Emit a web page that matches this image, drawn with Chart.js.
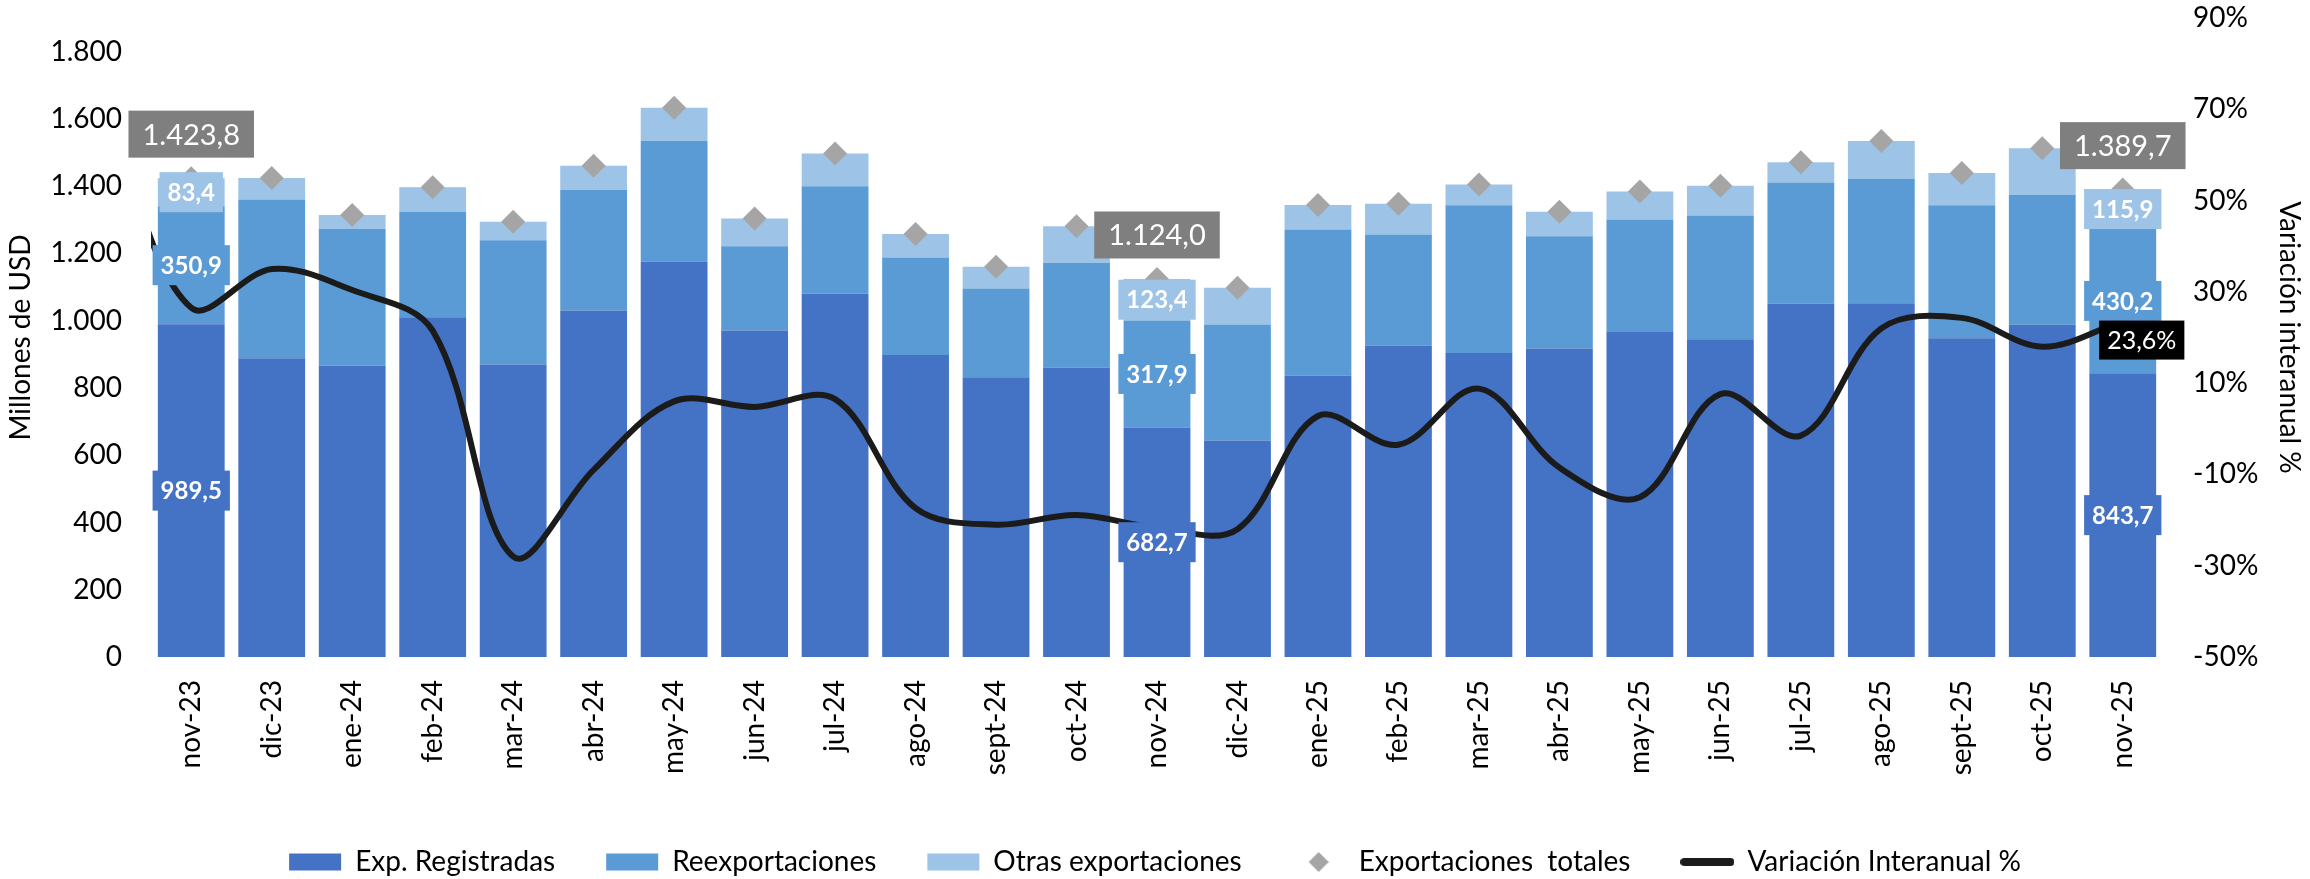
<!DOCTYPE html>
<html lang="es">
<head>
<meta charset="utf-8">
<title>Exportaciones</title>
<script src="https://cdn.jsdelivr.net/npm/chart.js@4.4.1/dist/chart.umd.min.js"></script>
<style>
  html, body { margin: 0; padding: 0; background: #fff; }
  canvas { display: block; }
</style>
</head>
<body>
<canvas id="grafico" width="2310" height="879"></canvas>
<script>
// --- DATOS ---
const categorias = ['nov-23', 'dic-23', 'ene-24', 'feb-24', 'mar-24', 'abr-24', 'may-24', 'jun-24', 'jul-24', 'ago-24', 'sept-24', 'oct-24', 'nov-24', 'dic-24', 'ene-25', 'feb-25', 'mar-25', 'abr-25', 'may-25', 'jun-25', 'jul-25', 'ago-25', 'sept-25', 'oct-25', 'nov-25'];
const expRegistradas = [989.5, 888, 866, 1010, 870, 1030, 1176, 971, 1080, 898, 832, 861, 682.7, 644, 837, 926, 904, 917, 966, 945, 1051, 1052, 948, 988, 843.7];
const reexportaciones = [350.9, 472, 407, 314, 369, 359, 359, 250, 320, 290, 264, 311, 317.9, 345, 434, 330, 439, 334, 335, 368, 360, 370, 395, 386, 430.2];
const otrasExportaciones = [83.4, 64, 41, 73, 55, 72, 98, 83, 97, 70, 64, 109, 123.4, 109, 73, 92, 62, 73, 83, 88, 60, 112, 96, 139, 115.9];
const exportacionesTotales = [1423.8, 1424, 1314, 1397, 1294, 1461, 1633, 1304, 1497, 1258, 1160, 1281, 1124.0, 1098, 1344, 1348, 1405, 1324, 1384, 1401, 1471, 1534, 1439, 1513, 1389.7];
// la serie de variación arranca un mes antes (oct-23), recortado por el borde del gráfico
const mesesVariacion = ['oct-23'].concat(categorias);
const variacionInteranual = [66, 26.5, 35, 30.4, 21.5, -28, -9, 6, 4.8, 6.5, -17.4, -21, -18.9, -21.7, -22, 2.8, -3.5, 8.8, -8.5, -15, 7.6, -1.5, 22, 24.3, 18, 23.6];
const ticksUSD = [0, 1800, 200];       // min, max etiquetado, paso
const ticksVariacion = [-50, 90, 20];  // min, max, paso
const mesesEtiquetados = ['nov-23', 'nov-24', 'nov-25'];

// --- ESTILOS ---
const colores = ['#4472C4', '#5B9BD5', '#9DC3E6'];
const FUENTE = 'Lato, "Open Sans", sans-serif';

Chart.defaults.font.family = FUENTE;
Chart.defaults.font.size = 28;
Chart.defaults.color = '#000';

function miles(v) {
    return String(v).replace(/\B(?=(\d{3})+(?!\d))/g, '.');
}
function formato(v) {
    const partes = v.toFixed(1).split('.');
    return miles(partes[0]) + ',' + partes[1];
}

function crearIcono(w, h, dibujar) {
    const c = document.createElement('canvas');
    c.width = w;
    c.height = h;
    dibujar(c.getContext('2d'));
    return c;
}
const iconoRombo = crearIcono(20, 20, g => {
    g.fillStyle = '#A5A5A5';
    g.beginPath();
    g.moveTo(10, 0); g.lineTo(20, 10); g.lineTo(10, 20); g.lineTo(0, 10);
    g.closePath();
    g.fill();
});
const iconoLinea = crearIcono(54, 8, g => {
    g.strokeStyle = '#1b1b1b';
    g.lineWidth = 8;
    g.lineCap = 'round';
    g.beginPath();
    g.moveTo(4, 4); g.lineTo(50, 4);
    g.stroke();
});

// caja con texto centrado (etiquetas de datos)
function caja(ctx, cx, cy, padX, alto, fondo, texto, fuente) {
    ctx.font = fuente;
    const ancho = ctx.measureText(texto).width + padX * 2;
    ctx.fillStyle = fondo;
    ctx.fillRect(cx - ancho / 2, cy - alto / 2, ancho, alto);
    ctx.fillStyle = '#fff';
    ctx.fillText(texto, cx, cy + 1);
}

const etiquetasDatos = {
    id: 'etiquetasDatos',
    afterDatasetsDraw(chart) {
        const ctx = chart.ctx;
        const indices = mesesEtiquetados.map(m => categorias.indexOf(m));
        ctx.save();
        ctx.textAlign = 'center';
        ctx.textBaseline = 'middle';

        // segmentos de las barras
        const series = [expRegistradas, reexportaciones, otrasExportaciones];
        series.forEach((serie, di) => {
            const meta = chart.getDatasetMeta(di);
            indices.forEach(i => {
                const barra = meta.data[i];
                const cy = (barra.y + barra.base) / 2;
                caja(ctx, barra.x, cy, 8, 40, colores[di], formato(serie[i]), 'bold 24px ' + FUENTE);
            });
        });

        // totales
        const metaTot = chart.getDatasetMeta(3);
        indices.forEach(i => {
            const p = metaTot.data[i];
            caja(ctx, p.x, p.y - 44, 14, 47, '#7F7F7F', formato(exportacionesTotales[i]), '29px ' + FUENTE);
        });

        // último valor de la variación
        const metaVar = chart.getDatasetMeta(4);
        const k = metaVar.data.length - 1;
        const ult = metaVar.data[k];
        caja(ctx, ult.x + 19, ult.y + 19, 8, 39, '#000', formato(variacionInteranual[k]) + '%', '25px ' + FUENTE);
        ctx.restore();
    }
};

// ancho fijo del eje y sin el relleno vertical que añade ticks.padding
function fijarEjeY(ancho) {
    return (s) => {
        s.width = ancho;
        s.paddingTop = 0;
        s.paddingBottom = 0;
    };
}

const ctx = document.getElementById('grafico');

new Chart(ctx, {
    data: {
        labels: categorias,
        datasets: [
            {
                type: 'bar', label: 'Exp. Registradas', data: expRegistradas,
                backgroundColor: colores[0], pointStyle: 'rect', order: 2, grouped: false,
                barPercentage: 0.83, categoryPercentage: 1
            },
            {
                type: 'bar', label: 'Reexportaciones', data: reexportaciones,
                backgroundColor: colores[1], pointStyle: 'rect', order: 2, grouped: false,
                barPercentage: 0.83, categoryPercentage: 1
            },
            {
                type: 'bar', label: 'Otras exportaciones', data: otrasExportaciones,
                backgroundColor: colores[2], pointStyle: 'rect', order: 2, grouped: false,
                barPercentage: 0.83, categoryPercentage: 1
            },
            {
                type: 'line', label: 'Exportaciones  totales', data: exportacionesTotales,
                stack: 'total', showLine: false, order: 1,
                pointStyle: 'rectRot', pointRadius: 12, pointHoverRadius: 12,
                pointBackgroundColor: '#A5A5A5', pointBorderWidth: 0,
                backgroundColor: '#A5A5A5', borderColor: '#A5A5A5',
                legendIcon: iconoRombo
            },
            {
                type: 'line', label: 'Variación Interanual %',
                data: variacionInteranual.map((v, i) => ({ x: i - 1, y: v })),
                xAxisID: 'x2', yAxisID: 'y1', order: 0,
                borderColor: '#1b1b1b', backgroundColor: '#1b1b1b', borderWidth: 6,
                tension: 0.35, pointRadius: 0, pointHoverRadius: 0,
                legendIcon: iconoLinea
            }
        ]
    },
    options: {
        responsive: false,
        animation: false,
        devicePixelRatio: 1,
        layout: { padding: { top: 18, left: 0, right: 0, bottom: 0 } },
        plugins: {
            tooltip: { enabled: false },
            legend: {
                position: 'bottom',
                maxHeight: 82,
                labels: {
                    usePointStyle: true,
                    pointStyleWidth: 52,
                    boxHeight: 17,
                    padding: 51,
                    font: { size: 28 },
                    sort: (a, b) => a.datasetIndex - b.datasetIndex,
                    generateLabels: (chart) => {
                        const items = Chart.defaults.plugins.legend.labels.generateLabels(chart);
                        items.forEach(it => {
                            const ds = chart.data.datasets[it.datasetIndex];
                            if (ds.legendIcon) it.pointStyle = ds.legendIcon;
                            it.lineWidth = 0;
                        });
                        return items;
                    }
                }
            }
        },
        scales: {
            x: {
                stacked: true,
                grid: { display: false, drawTicks: false },
                border: { display: false },
                ticks: { minRotation: 90, maxRotation: 90, padding: 23, font: { size: 28 } },
                afterFit: (s) => { s.height = 140; }
            },
            x2: {
                type: 'linear', display: false,
                min: -0.5, max: categorias.length - 0.5
            },
            y: {
                stacked: true,
                position: 'left',
                min: ticksUSD[0], max: ticksUSD[1] + 100,
                grid: { display: false, drawTicks: false },
                border: { display: false },
                ticks: {
                    stepSize: ticksUSD[2], includeBounds: false, padding: 29,
                    callback: (v) => miles(v)
                },
                title: { display: true, text: 'Millones de USD', font: { size: 28 }, padding: { top: 4, bottom: 0 } },
                afterFit: fijarEjeY(151)
            },
            y1: {
                position: 'right',
                min: ticksVariacion[0], max: ticksVariacion[1],
                grid: { display: false, drawTicks: false },
                border: { display: false },
                ticks: {
                    stepSize: ticksVariacion[2], padding: 30,
                    callback: (v) => v + '%'
                },
                title: { display: true, text: 'Variación interanual %', font: { size: 28 }, padding: { top: 4, bottom: 0 } },
                afterFit: fijarEjeY(147)
            }
        }
    },
    plugins: [etiquetasDatos]
});
</script>
</body>
</html>
